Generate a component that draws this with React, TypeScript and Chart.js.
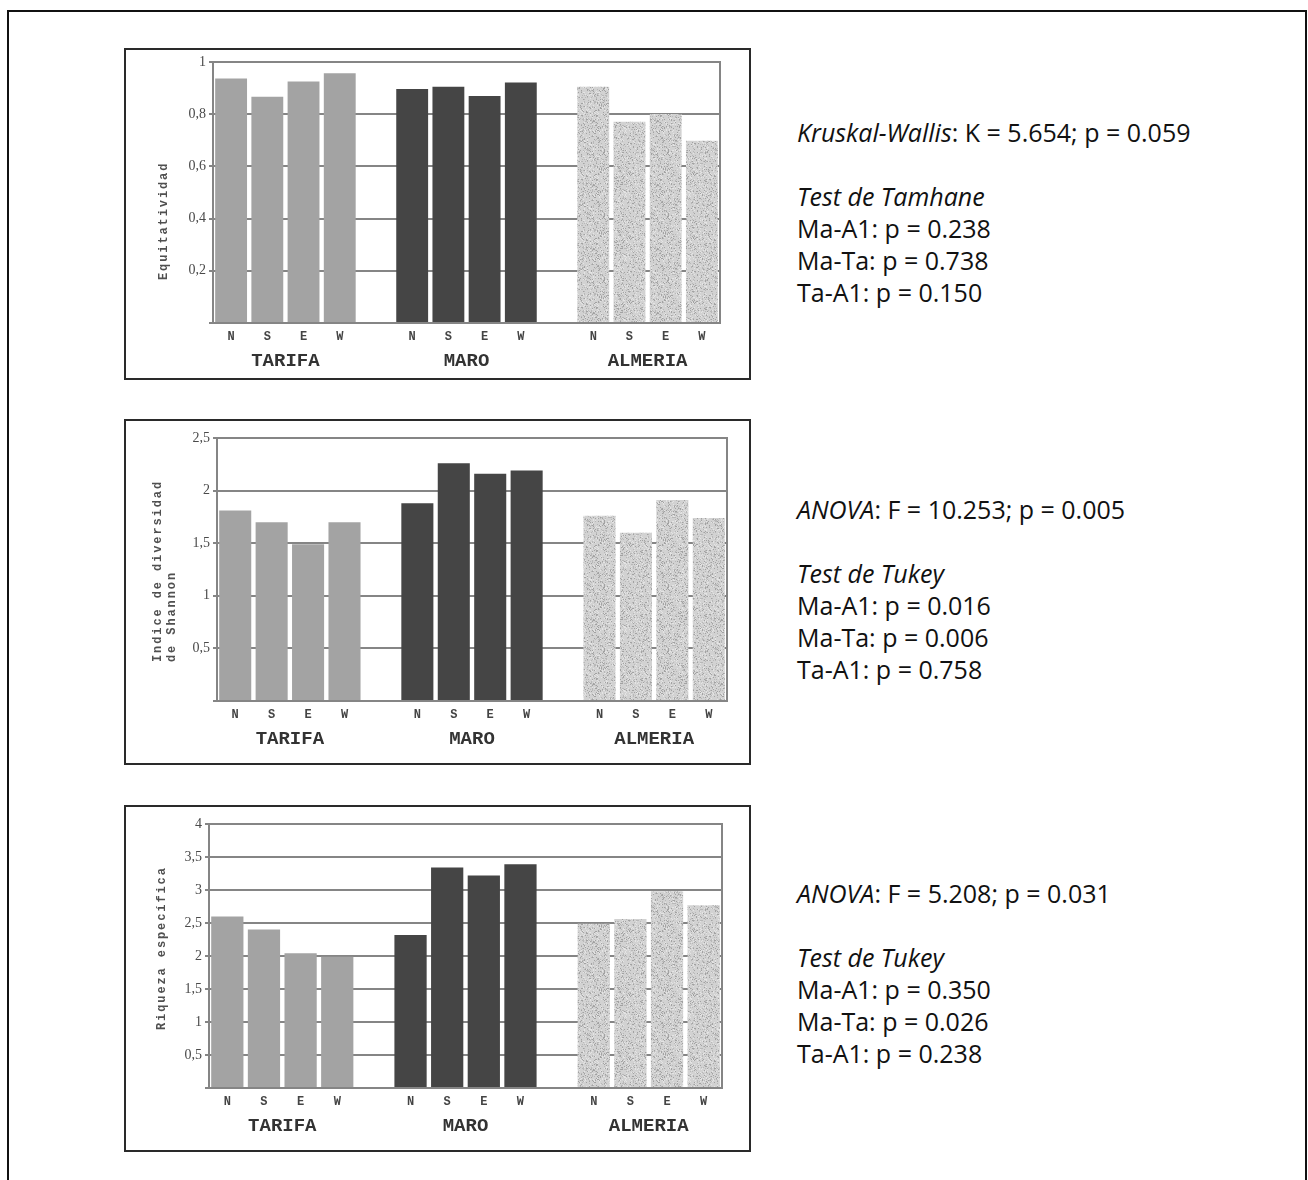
import React, { useEffect, useRef } from 'react';
import { Chart, registerables } from 'chart.js';

Chart.register(...registerables);

// ---------- data ----------
const categories = ['N', 'S', 'E', 'W', '', 'N', 'S', 'E', 'W', '', 'N', 'S', 'E', 'W'];
const groupNames = ['TARIFA', 'MARO', 'ALMERIA'];

const equitTarifa = [0.937, 0.867, 0.925, 0.957];
const equitMaro = [0.897, 0.905, 0.87, 0.921];
const equitAlmeria = [0.905, 0.771, 0.801, 0.698];

const shannonTarifa = [1.81, 1.7, 1.49, 1.7];
const shannonMaro = [1.88, 2.26, 2.16, 2.19];
const shannonAlmeria = [1.76, 1.6, 1.91, 1.74];

const riquezaTarifa = [2.6, 2.4, 2.04, 1.99];
const riquezaMaro = [2.32, 3.34, 3.22, 3.39];
const riquezaAlmeria = [2.49, 2.56, 2.98, 2.77];

const stats1 = ['Kruskal-Wallis', ': K = 5.654; p = 0.059', 'Test de Tamhane', 'Ma-A1: p = 0.238', 'Ma-Ta: p = 0.738', 'Ta-A1: p = 0.150'];
const stats2 = ['ANOVA', ': F = 10.253; p = 0.005', 'Test de Tukey', 'Ma-A1: p = 0.016', 'Ma-Ta: p = 0.006', 'Ta-A1: p = 0.758'];
const stats3 = ['ANOVA', ': F = 5.208; p = 0.031', 'Test de Tukey', 'Ma-A1: p = 0.350', 'Ma-Ta: p = 0.026', 'Ta-A1: p = 0.238'];

// group name sits between the 2nd and 3rd bar of each group (slot g*5+1, shifted half a slot)
const groupLabelSlots: string[] = categories.map((_, i) => (i % 5 === 1 ? groupNames[Math.floor(i / 5)] : ''));

function place(group: number, vals: number[]): (number | null)[] {
  const out: (number | null)[] = categories.map(() => null);
  vals.forEach((v, i) => {
    out[group * 5 + i] = v;
  });
  return out;
}

function makeStipple(ctx: CanvasRenderingContext2D): CanvasPattern | string {
  const c = document.createElement('canvas');
  c.width = 64;
  c.height = 64;
  const g = c.getContext('2d');
  if (!g) return '#c6c6c6';
  g.fillStyle = '#d2d2d2';
  g.fillRect(0, 0, 64, 64);
  let s = 98765;
  const rnd = () => {
    s = (Math.imul(s, 1103515245) + 12345) >>> 0;
    return (s >>> 8) / 16777216;
  };
  for (let i = 0; i < 1500; i++) {
    const x = Math.floor(rnd() * 64);
    const y = Math.floor(rnd() * 64);
    const r = rnd();
    g.fillStyle = r < 0.3 ? '#a2a2a2' : r < 0.65 ? '#b8b8b8' : '#e4e4e4';
    g.fillRect(x, y, 1, 1);
  }
  return ctx.createPattern(c, 'repeat') || '#c6c6c6';
}

const yTitlePlugin = {
  id: 'yTitle',
  afterDraw(chart: any, _args: any, opts: any) {
    const { ctx, chartArea } = chart;
    ctx.save();
    ctx.font = opts.font;
    ctx.fillStyle = opts.color;
    try {
      (ctx as any).letterSpacing = opts.letterSpacing;
    } catch (e) {
      /* ignore */
    }
    ctx.textAlign = 'left';
    ctx.textBaseline = 'middle';
    (opts.lines as string[]).forEach((line, i) => {
      ctx.save();
      ctx.translate(chartArea.left - opts.offsetX + i * opts.lineHeight, chartArea.bottom - opts.offsetBottom);
      ctx.rotate(-Math.PI / 2);
      ctx.fillText(line, 0, 0);
      ctx.restore();
    });
    ctx.restore();
  },
};

type Spec = {
  left: number;
  top: number;
  width: number;
  height: number;
  yWidth: number;
  padTop: number;
  padRight: number;
  padBottom: number;
  yMax: number;
  yStep: number;
  tarifa: number[];
  maro: number[];
  almeria: number[];
  titleLines: string[];
  titleOffsetX: number;
  titleOffsetBottom: number;
};

const GRID = '#858585';

function Panel({ spec }: { spec: Spec }) {
  const ref = useRef<HTMLCanvasElement | null>(null);
  useEffect(() => {
    const canvas = ref.current;
    if (!canvas) return;
    const ctx = canvas.getContext('2d');
    if (!ctx) return;
    const stipple = makeStipple(ctx);
    const areaWidth = spec.width - spec.padRight - spec.yWidth;
    const common = { grouped: false, barPercentage: 0.88, categoryPercentage: 1, xAxisID: 'x', yAxisID: 'y', borderWidth: 0 };
    const chart = new Chart(ctx, {
      type: 'bar',
      data: {
        labels: categories,
        datasets: [
          { ...common, data: place(0, spec.tarifa), backgroundColor: '#a3a3a3' },
          { ...common, data: place(1, spec.maro), backgroundColor: '#454545' },
          { ...common, data: place(2, spec.almeria), backgroundColor: stipple as any },
        ] as any,
      },
      options: {
        responsive: false,
        maintainAspectRatio: false,
        animation: false,
        layout: { padding: { left: 0, top: spec.padTop, right: spec.padRight, bottom: spec.padBottom } },
        plugins: {
          legend: { display: false },
          tooltip: { enabled: false },
          yTitle: {
            lines: spec.titleLines,
            font: 'bold 12px "Liberation Mono"',
            color: '#505050',
            letterSpacing: '1.9px',
            lineHeight: 14,
            offsetX: spec.titleOffsetX,
            offsetBottom: spec.titleOffsetBottom,
          },
        } as any,
        scales: {
          x: {
            type: 'category',
            position: 'bottom',
            offset: true,
            grid: { display: false, drawTicks: false },
            border: { display: true, color: GRID, width: 2 },
            ticks: {
              font: { family: 'Liberation Mono', size: 12, weight: 'bold' },
              color: '#444444',
              padding: 7,
              maxRotation: 0,
              autoSkip: false,
            },
            afterFit: (s: any) => {
              s.height = 22;
            },
          },
          x2: {
            type: 'category',
            position: 'bottom',
            labels: groupLabelSlots,
            offset: true,
            grid: { display: false, drawTicks: false },
            border: { display: false },
            ticks: {
              font: { family: 'Liberation Mono', size: 19, weight: 'bold' },
              color: '#333333',
              padding: 5,
              maxRotation: 0,
              autoSkip: false,
              labelOffset: areaWidth / 28,
            },
            afterFit: (s: any) => {
              s.height = 30;
            },
          },
          y: {
            type: 'linear',
            min: 0,
            max: spec.yMax,
            ticks: {
              stepSize: spec.yStep,
              callback: (v: any) => {
                const n = Math.round(Number(v) * 10) / 10;
                return n === 0 ? '' : String(n).replace('.', ',');
              },
              font: { family: 'Liberation Serif', size: 14 },
              color: '#4a4a4a',
              padding: 3,
            },
            grid: { color: GRID, lineWidth: 2, tickLength: 4, drawTicks: true },
            border: { display: true, color: GRID, width: 2 },
            afterFit: (s: any) => {
              s.width = spec.yWidth;
            },
          },
          yR: {
            type: 'linear',
            position: 'right',
            display: true,
            grid: { display: false },
            ticks: { display: false },
            border: { display: true, color: GRID, width: 2 },
            afterFit: (s: any) => {
              s.width = 0;
            },
          },
        } as any,
      },
      plugins: [yTitlePlugin as any],
    });
    return () => chart.destroy();
  }, [spec]);

  return (
    <>
      <canvas
        ref={ref}
        width={spec.width}
        height={spec.height}
        style={{ position: 'absolute', left: spec.left, top: spec.top, width: spec.width, height: spec.height }}
      />
      <div
        style={{
          position: 'absolute',
          left: spec.left,
          top: spec.top,
          width: spec.width,
          height: spec.height,
          boxSizing: 'border-box',
          border: '2px solid #2a2a2a',
          pointerEvents: 'none',
        }}
      />
    </>
  );
}

const spec1: Spec = {
  left: 124, top: 48, width: 627, height: 332,
  yWidth: 89, padTop: 14, padRight: 31, padBottom: 5,
  yMax: 1, yStep: 0.2,
  tarifa: equitTarifa, maro: equitMaro, almeria: equitAlmeria,
  titleLines: ['Equitatividad'], titleOffsetX: 49, titleOffsetBottom: 43,
};
const spec2: Spec = {
  left: 124, top: 419, width: 627, height: 346,
  yWidth: 93, padTop: 19, padRight: 24, padBottom: 12,
  yMax: 2.5, yStep: 0.5,
  tarifa: shannonTarifa, maro: shannonMaro, almeria: shannonAlmeria,
  titleLines: ['Indice de diversidad', 'de Shannon'], titleOffsetX: 59, titleOffsetBottom: 39,
};
const spec3: Spec = {
  left: 124, top: 805, width: 627, height: 347,
  yWidth: 85, padTop: 19, padRight: 29, padBottom: 12,
  yMax: 4, yStep: 0.5,
  tarifa: riquezaTarifa, maro: riquezaMaro, almeria: riquezaAlmeria,
  titleLines: ['Riqueza específica'], titleOffsetX: 47, titleOffsetBottom: 58,
};

function Stats({ lines, top }: { lines: string[]; top: number }) {
  return (
    <div
      style={{
        position: 'absolute',
        left: 797,
        top,
        fontFamily: '"Open Sans", "Noto Sans", sans-serif',
        fontSize: 25,
        lineHeight: '32px',
        color: '#111111',
        whiteSpace: 'pre',
      }}
    >
      <div>
        <i>{lines[0]}</i>
        {lines[1]}
      </div>
      <div>{'\u00a0'}</div>
      <div>
        <i>{lines[2]}</i>
      </div>
      <div>{lines[3]}</div>
      <div>{lines[4]}</div>
      <div>{lines[5]}</div>
    </div>
  );
}

export default function App() {
  return (
    <div style={{ position: 'absolute', left: 0, top: 0, width: 1308, height: 1180, overflow: 'hidden', background: '#ffffff' }}>
      <div
        style={{
          position: 'absolute',
          left: 7,
          top: 10,
          width: 1300,
          height: 1220,
          boxSizing: 'border-box',
          border: '2px solid #111111',
        }}
      />
      <Panel spec={spec1} />
      <Panel spec={spec2} />
      <Panel spec={spec3} />
      <Stats lines={stats1} top={116} />
      <Stats lines={stats2} top={493} />
      <Stats lines={stats3} top={877} />
    </div>
  );
}
